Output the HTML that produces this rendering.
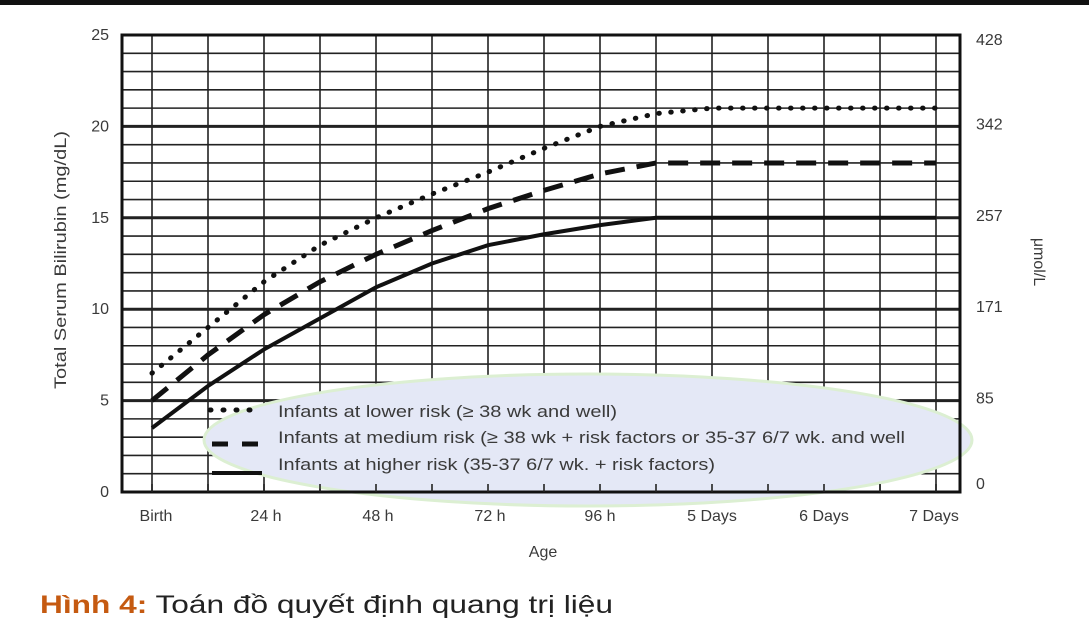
<!DOCTYPE html>
<html><head><meta charset="utf-8"><style>
body{margin:0;background:#fff;width:1089px;height:632px;overflow:hidden;font-family:"Liberation Sans",sans-serif}
svg text{font-family:"Liberation Sans",sans-serif;fill:#3a3a3a}
</style></head><body>
<svg id="c" width="1089" height="632">
<rect x="0" y="0" width="1089" height="5" fill="#111"/>
<g id="grid"></g>
<ellipse cx="588" cy="440" rx="384" ry="66" fill="#e4e8f6" stroke="#dcefd2" stroke-width="3"/>
<g id="series"></g>
<rect x="122" y="35" width="838" height="457" fill="none" stroke="#111" stroke-width="3"/>
<g id="axes"></g>
<g>
<line x1="210" y1="410" x2="262" y2="410" stroke="#111" stroke-width="5" stroke-dasharray="1,12" stroke-linecap="round"/>
<text x="278" y="417" font-size="17" textLength="339" lengthAdjust="spacingAndGlyphs">Infants at lower risk (≥ 38 wk and well)</text>
<line x1="212" y1="444" x2="262" y2="444" stroke="#111" stroke-width="5" stroke-dasharray="16,14"/>
<text x="278" y="443" font-size="17" textLength="627" lengthAdjust="spacingAndGlyphs">Infants at medium risk (≥ 38 wk + risk factors or 35-37 6/7 wk. and well</text>
<line x1="212" y1="473" x2="262" y2="473" stroke="#111" stroke-width="4"/>
<text x="278" y="470" font-size="17" textLength="437" lengthAdjust="spacingAndGlyphs">Infants at higher risk (35-37 6/7 wk. + risk factors)</text>
</g>
<text x="543" y="557" font-size="16" text-anchor="middle">Age</text>
<text transform="translate(66,260) rotate(-90)" font-size="17" text-anchor="middle" textLength="258" lengthAdjust="spacingAndGlyphs">Total Serum Bilirubin (mg/dL)</text>
<text transform="translate(1034,262) rotate(90)" font-size="16" text-anchor="middle">μmol/L</text>
<text x="40" y="613" font-size="25" textLength="573" lengthAdjust="spacingAndGlyphs" style="fill:#222"><tspan style="fill:#c55a11;font-weight:bold">Hình 4:</tspan> Toán đồ quyết định quang trị liệu</text>
</svg>
<script>
const hours=[0,12,24,36,48,60,72,84,96,108,120,144,168];
const lowerRisk=[6.5,9,11.5,13.5,15,16.3,17.5,18.8,20,20.7,21,21,21];
const mediumRisk=[5,7.5,9.7,11.5,13,14.3,15.5,16.5,17.4,18,18,18,18];
const higherRisk=[3.5,5.8,7.8,9.5,11.2,12.5,13.5,14.1,14.6,15,15,15,15];
const xLabels=["Birth","24 h","48 h","72 h","96 h","5 Days","6 Days","7 Days"];
const yTicks=[0,5,10,15,20,25];
const y2Labels=["0","85","171","257","342","428"];
const NS="http://www.w3.org/2000/svg";
const x=h=>152+h*56/12;
const y=v=>492-v*457/25;
function mk(tag,attrs,parent){const e=document.createElementNS(NS,tag);for(const k in attrs)e.setAttribute(k,attrs[k]);parent.appendChild(e);return e;}
const grid=document.getElementById('grid'),axes=document.getElementById('axes'),ser=document.getElementById('series');
for(let v=1;v<25;v++){const l=mk('line',{x1:122,x2:960,y1:y(v),y2:y(v),stroke:'#222','stroke-width':v%5==0?3:1.6},grid);

}
for(let i=0;i<=14;i++){const l=mk('line',{x1:x(i*12),x2:x(i*12),y1:35,y2:492,stroke:'#222','stroke-width':1.6},grid);

}
for(let i=0;i<=14;i++){const t=mk('line',{x1:x(i*12),x2:x(i*12),y1:484,y2:492,stroke:'#222','stroke-width':1.6},axes);

}
xLabels.forEach((s,i)=>{const t=mk('text',{x:x(i*24)+(i==0?4:(i<4?2:(i==7?-2:0))),y:521,'font-size':16,'text-anchor':'middle'},axes);t.textContent=s;

});
yTicks.forEach((v,i)=>{const t=mk('text',{x:109,y:y(v)+5,'font-size':16,'text-anchor':'end'},axes);t.textContent=v;


const r=mk('text',{x:976,y:y(v)+(v==0?-3:(v==25?10:3)),'font-size':16},axes);r.textContent=y2Labels[i];

});
function line(vals,dash,name,cap,w){const p=mk('polyline',{points:hours.map((h,i)=>x(h)+','+y(vals[i])).join(' '),fill:'none',stroke:'#111','stroke-width':w,'stroke-dasharray':dash,'stroke-linecap':cap},ser);

}
line(lowerRisk,'0.5,11.5','lower-risk-line','round',5);
line(mediumRisk,'20,12','medium-risk-line','butt',5);
line(higherRisk,'none','higher-risk-line','butt',4);
</script>
</body></html>
